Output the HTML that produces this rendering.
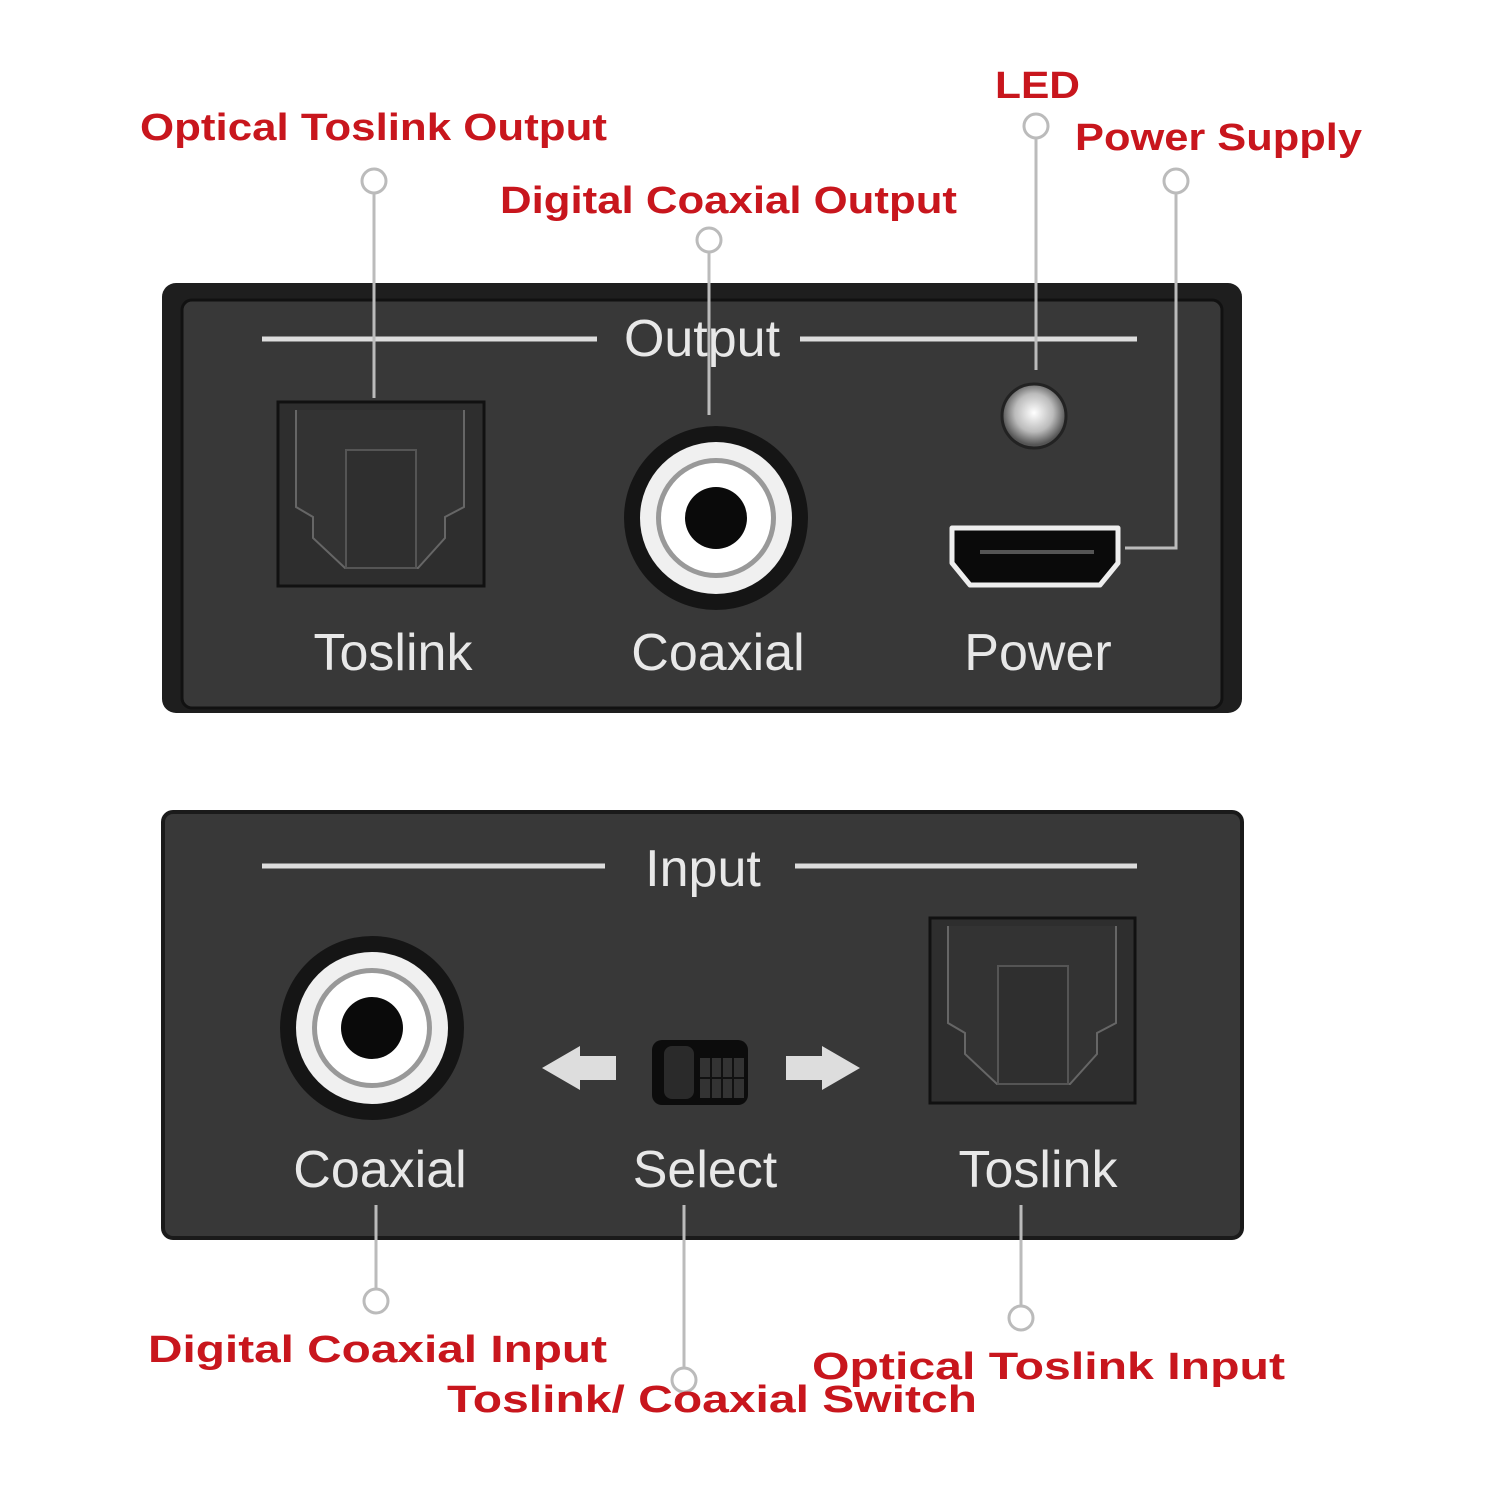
<!DOCTYPE html>
<html><head><meta charset="utf-8"><style>
html,body{margin:0;padding:0;background:#fff;}
svg{display:block}
.r{font-family:"Liberation Sans",sans-serif;font-weight:bold;font-size:38px;fill:#c8161d}
.w{font-family:"Liberation Sans",sans-serif;font-size:52px;fill:#e8e8e8}
</style></head><body>
<svg width="1500" height="1500" viewBox="0 0 1500 1500" xmlns="http://www.w3.org/2000/svg">
<defs>
<radialGradient id="led" cx="0.5" cy="0.45" r="0.5"><stop offset="0" stop-color="#fff"/><stop offset="0.6" stop-color="#bbb"/><stop offset="1" stop-color="#555"/></radialGradient>
</defs>
<!-- top panel -->
<rect x="162" y="283" width="1080" height="430" rx="14" fill="#1e1e1e"/>
<rect x="182" y="300" width="1040" height="408" rx="10" fill="#383838" stroke="#111" stroke-width="3"/>
<line x1="262" y1="339" x2="597" y2="339" stroke="#ddd" stroke-width="5"/>
<line x1="800" y1="339" x2="1137" y2="339" stroke="#ddd" stroke-width="5"/>
<text class="w" x="702" y="356" text-anchor="middle">Output</text>
<!-- toslink top -->
<rect x="278" y="402" width="206" height="184" fill="#2e2e2e" stroke="#111" stroke-width="3"/>
<path d="M296 410 V507 L313 517 V538 L345 568 H418 L445 538 V517 L464 507 V410" fill="#333" stroke="#666" stroke-width="2"/>
<rect x="346" y="450" width="70" height="118" fill="#2f2f2f" stroke="#555" stroke-width="2"/>
<text class="w" x="393" y="670" text-anchor="middle">Toslink</text>
<!-- rca top -->
<circle cx="716" cy="518" r="92" fill="#151515"/>
<circle cx="716" cy="518" r="76" fill="#f0f0f0"/>
<circle cx="716" cy="518" r="60" fill="#999"/>
<circle cx="716" cy="518" r="55" fill="#fff"/>
<circle cx="716" cy="518" r="31" fill="#0a0a0a"/>
<text class="w" x="718" y="670" text-anchor="middle">Coaxial</text>
<!-- led -->
<circle cx="1034" cy="416" r="32" fill="url(#led)" stroke="#222" stroke-width="3"/>
<!-- hdmi -->
<path d="M952 528 H1118 V563 L1100 585 H970 L952 563 Z" fill="#0a0a0a" stroke="#eee" stroke-width="5" stroke-linejoin="round"/>
<line x1="980" y1="552" x2="1094" y2="552" stroke="#555" stroke-width="4"/>
<text class="w" x="1038" y="670" text-anchor="middle">Power</text>

<!-- bottom panel -->
<rect x="163" y="812" width="1079" height="426" rx="10" fill="#383838" stroke="#1a1a1a" stroke-width="4"/>
<line x1="262" y1="866" x2="605" y2="866" stroke="#ddd" stroke-width="5"/>
<line x1="795" y1="866" x2="1137" y2="866" stroke="#ddd" stroke-width="5"/>
<text class="w" x="703" y="886" text-anchor="middle">Input</text>
<circle cx="372" cy="1028" r="92" fill="#151515"/>
<circle cx="372" cy="1028" r="76" fill="#f0f0f0"/>
<circle cx="372" cy="1028" r="60" fill="#999"/>
<circle cx="372" cy="1028" r="55" fill="#fff"/>
<circle cx="372" cy="1028" r="31" fill="#0a0a0a"/>
<text class="w" x="380" y="1187" text-anchor="middle">Coaxial</text>
<!-- arrows -->
<path d="M616 1056 V1080 H580 V1090 L542 1068 L580 1046 V1056 Z" fill="#ddd"/>
<path d="M786 1056 V1080 H822 V1090 L860 1068 L822 1046 V1056 Z" fill="#ddd"/>
<!-- switch -->
<rect x="652" y="1040" width="96" height="65" rx="10" fill="#0c0c0c"/>
<rect x="664" y="1046" width="30" height="53" rx="8" fill="#2a2a2a"/>
<rect x="700" y="1058" width="44" height="40" fill="#333"/>
<g stroke="#111" stroke-width="2"><line x1="711" y1="1058" x2="711" y2="1098"/><line x1="722" y1="1058" x2="722" y2="1098"/><line x1="733" y1="1058" x2="733" y2="1098"/><line x1="700" y1="1078" x2="744" y2="1078"/></g>
<text class="w" x="705" y="1187" text-anchor="middle">Select</text>
<!-- toslink bottom -->
<rect x="930" y="918" width="205" height="185" fill="#2e2e2e" stroke="#111" stroke-width="3"/>
<path d="M948 926 V1023 L965 1033 V1054 L997 1084 H1070 L1097 1054 V1033 L1116 1023 V926" fill="#333" stroke="#666" stroke-width="2"/>
<rect x="998" y="966" width="70" height="118" fill="#2f2f2f" stroke="#555" stroke-width="2"/>
<text class="w" x="1038" y="1187" text-anchor="middle">Toslink</text>

<!-- leaders -->
<g stroke="#bbb" stroke-width="3" fill="#fff">
<line x1="374" y1="193" x2="374" y2="398"/>
<line x1="709" y1="252" x2="709" y2="415"/>
<line x1="1036" y1="138" x2="1036" y2="370"/>
<polyline points="1176,193 1176,548 1125,548" fill="none"/>
<line x1="376" y1="1205" x2="376" y2="1289"/>
<line x1="684" y1="1205" x2="684" y2="1368"/>
<line x1="1021" y1="1205" x2="1021" y2="1306"/>
<circle cx="374" cy="181" r="12"/>
<circle cx="709" cy="240" r="12"/>
<circle cx="1036" cy="126" r="12"/>
<circle cx="1176" cy="181" r="12"/>
<circle cx="376" cy="1301" r="12"/>
<circle cx="684" cy="1380" r="12"/>
<circle cx="1021" cy="1318" r="12"/>
</g>
<!-- labels -->
<text class="r" x="140" y="140" textLength="467" lengthAdjust="spacingAndGlyphs">Optical Toslink Output</text>
<text class="r" x="500" y="213" textLength="457" lengthAdjust="spacingAndGlyphs">Digital Coaxial Output</text>
<text class="r" x="995" y="98" textLength="85" lengthAdjust="spacingAndGlyphs">LED</text>
<text class="r" x="1075" y="150" textLength="287" lengthAdjust="spacingAndGlyphs">Power Supply</text>
<text class="r" x="148" y="1362" textLength="459" lengthAdjust="spacingAndGlyphs">Digital Coaxial Input</text>
<text class="r" x="447" y="1412" textLength="530" lengthAdjust="spacingAndGlyphs">Toslink/ Coaxial Switch</text>
<text class="r" x="812" y="1379" textLength="473" lengthAdjust="spacingAndGlyphs">Optical Toslink Input</text>
</svg>
</body></html>
